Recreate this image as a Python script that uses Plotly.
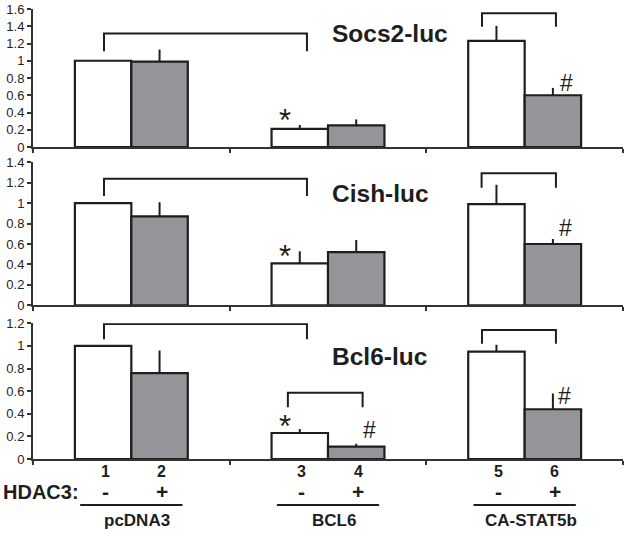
import plotly.graph_objects as go

# ---------------- data ----------------
groups = ["pcDNA3", "BCL6", "CA-STAT5b"]
bar_numbers = ["1", "2", "3", "4", "5", "6"]
hdac3_signs = ["-", "+", "-", "+", "-", "+"]
panel_titles = ["Socs2-luc", "Cish-luc", "Bcl6-luc"]

socs2_minus = [1.00, 0.21, 1.23]
socs2_minus_err = [0.0, 0.045, 0.175]
socs2_plus = [0.99, 0.25, 0.60]
socs2_plus_err = [0.14, 0.07, 0.085]

cish_minus = [1.00, 0.41, 0.99]
cish_minus_err = [0.0, 0.12, 0.19]
cish_plus = [0.87, 0.52, 0.60]
cish_plus_err = [0.14, 0.12, 0.05]

bcl6_minus = [1.00, 0.23, 0.95]
bcl6_minus_err = [0.0, 0.035, 0.06]
bcl6_plus = [0.76, 0.11, 0.44]
bcl6_plus_err = [0.20, 0.025, 0.14]

panels = [
    (socs2_minus, socs2_minus_err, socs2_plus, socs2_plus_err, 1.6),
    (cish_minus, cish_minus_err, cish_plus, cish_plus_err, 1.4),
    (bcl6_minus, bcl6_minus_err, bcl6_plus, bcl6_plus_err, 1.2),
]

# ---------------- styling ----------------
W, H = 633, 533
ML, MR = 33, 10
GRAY = "#939598"
INK = "#1e1e1e"
AXC = "#333333"
FONT = "Liberation Sans, Arial, sans-serif"

# y domains (pixel rows of top tick / zero line)
pix = [(9, 147), (162.3, 305.3), (323.3, 459)]
domains = [[1 - b / H, 1 - t / H] for t, b in pix]

fig = go.Figure()

for i, (mv, me, pv, pe, ymax) in enumerate(panels):
    n = "" if i == 0 else str(i + 1)
    fig.add_trace(go.Bar(
        x=groups, y=mv, xaxis="x" + n, yaxis="y" + n,
        marker=dict(color="white", line=dict(color=INK, width=2.2)),
        error_y=dict(type="data", array=me, arrayminus=[0] * 3, symmetric=False,
                     color=INK, thickness=2, width=0, visible=True),
        offsetgroup="a", showlegend=False, hoverinfo="skip"))
    fig.add_trace(go.Bar(
        x=groups, y=pv, xaxis="x" + n, yaxis="y" + n,
        marker=dict(color=GRAY, line=dict(color=INK, width=2.2)),
        error_y=dict(type="data", array=pe, arrayminus=[0] * 3, symmetric=False,
                     color=INK, thickness=2, width=0, visible=True),
        offsetgroup="b", showlegend=False, hoverinfo="skip"))

    fig.layout["xaxis" + n] = dict(
        domain=[0, 1], anchor="y" + n, type="category", range=[-0.5, 2.5],
        showline=True, linecolor=AXC, linewidth=2, ticks="outside",
        tickson="boundaries", ticklen=4, tickwidth=2, tickcolor=AXC,
        showticklabels=False, showgrid=False, zeroline=False, fixedrange=True,
        automargin=False)
    fig.layout["yaxis" + n] = dict(
        domain=domains[i], anchor="x" + n, range=[0, ymax], dtick=0.2,
        showline=True, linecolor=AXC, linewidth=2, ticks="outside", ticklen=4,
        tickwidth=2, tickcolor=AXC, showgrid=False, zeroline=False,
        tickfont=dict(family=FONT, size=13, color="#222"), fixedrange=True,
        automargin=False)

# ---------------- brackets ----------------
brackets = [
    # panel, x_left, x_right, y_top, y_leg_left, y_leg_right
    (0, -0.139, 0.893, 1.317, 1.11, 1.11),
    (0, 1.783, 2.159, 1.55, 1.395, 1.395),
    (1, -0.139, 0.893, 1.24, 1.07, 1.07),
    (1, 1.781, 2.159, 1.293, 1.152, 1.152),
    (2, -0.139, 0.893, 1.193, 1.06, 1.06),
    (2, 0.796, 1.176, 0.586, 0.457, 0.457),
    (2, 1.783, 2.159, 1.14, 1.02, 1.02),
]
shapes = []
for p, xl, xr, yt, yl, yr in brackets:
    n = "" if p == 0 else str(p + 1)
    shapes.append(dict(type="path", xref="x" + n, yref="y" + n,
                       path=f"M {xl},{yl} L {xl},{yt} L {xr},{yt} L {xr},{yr}",
                       line=dict(color=INK, width=2)))

# underlines of group labels
for g in range(3):
    shapes.append(dict(type="line", xref="x3", yref="paper",
                       x0=g - 0.26, x1=g + 0.26, y0=1 - 505 / H, y1=1 - 505 / H,
                       line=dict(color=INK, width=2)))

annotations = []
# panel titles
title_y = [1.316, 1.09, 0.905]
for i, t in enumerate(panel_titles):
    n = "" if i == 0 else str(i + 1)
    annotations.append(dict(text=f"<b>{t}</b>", xref="x" + n, yref="y" + n,
                            x=1.01, y=title_y[i], xanchor="left", yanchor="middle",
                            showarrow=False, font=dict(family=FONT, size=24.5, color=INK)))

# significance marks
marks = [
    (0, "*", 0.781, 0.31), (0, "#", 2.215, 0.742),
    (1, "*", 0.781, 0.48), (1, "#", 2.21, 0.757),
    (2, "*", 0.781, 0.29), (2, "#", 1.213, 0.256), (2, "#", 2.205, 0.56),
]
for p, s, x, y in marks:
    n = "" if p == 0 else str(p + 1)
    annotations.append(dict(text=s, xref="x" + n, yref="y" + n, x=x, y=y,
                            xanchor="center", yanchor="middle", showarrow=False,
                            font=dict(family=FONT, size=31 if s == "*" else 23, color=INK)))

# bar numbers and HDAC3 signs
bw = 0.1435
for k in range(6):
    g = k // 2
    xc = g - bw if k % 2 == 0 else g + bw
    annotations.append(dict(text=f"<b>{bar_numbers[k]}</b>", xref="x3", yref="paper",
                            x=xc + 0.01, y=1 - 471.7 / H, xanchor="center", yanchor="middle",
                            showarrow=False, font=dict(family=FONT, size=16, color=INK)))
    annotations.append(dict(text=f"<b>{hdac3_signs[k]}</b>", xref="x3", yref="paper",
                            x=xc + 0.01, y=1 - 491.7 / H, xanchor="center", yanchor="middle",
                            showarrow=False, font=dict(family=FONT, size=21, color=INK)))
annotations.append(dict(text="<b>HDAC3:</b>", xref="paper", yref="paper",
                        x=(1 - ML) / (W - ML - MR), y=1 - 491.7 / H, xanchor="left",
                        yanchor="middle", showarrow=False,
                        font=dict(family=FONT, size=20, color=INK)))
for g, name in enumerate(groups):
    annotations.append(dict(text=f"<b>{name}</b>", xref="x3", yref="paper",
                            x=g + 0.03, y=1 - 520 / H, xanchor="center", yanchor="middle",
                            showarrow=False, font=dict(family=FONT, size=17, color=INK)))

fig.update_layout(
    width=W, height=H, margin=dict(l=ML, r=MR, t=0, b=0, autoexpand=False),
    barmode="group", bargap=0.426, bargroupgap=0,
    plot_bgcolor="white", paper_bgcolor="white",
    shapes=shapes, annotations=annotations, showlegend=False,
)

fig.write_html("out.html", config={"displayModeBar": False, "staticPlot": True},
               post_script="document.body.style.margin='0';document.body.style.padding='0';")
